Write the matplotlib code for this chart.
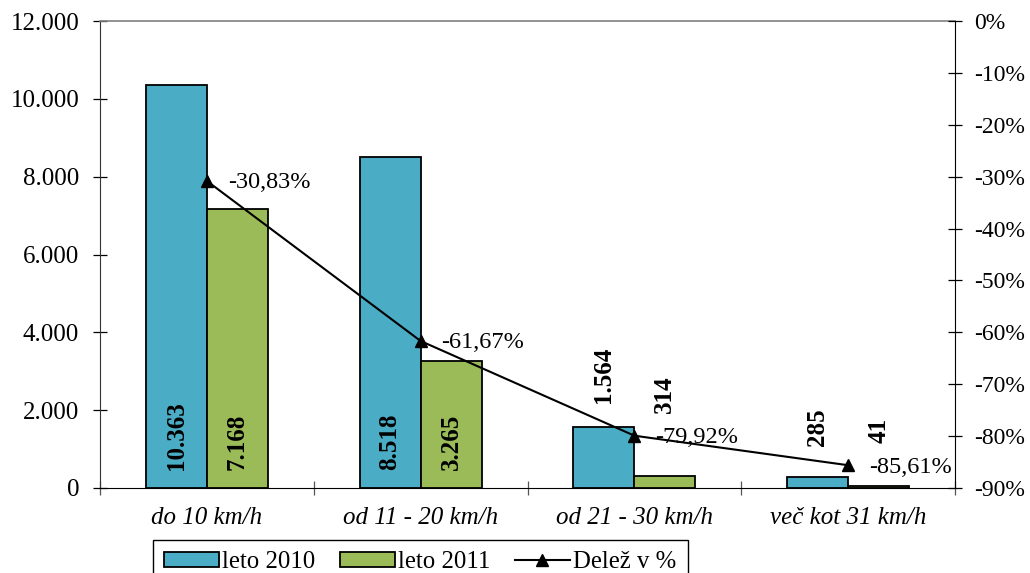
import matplotlib
matplotlib.use("Agg")
import matplotlib.pyplot as plt
from matplotlib.ticker import FuncFormatter, FixedLocator
import numpy as np

categories = ["do 10 km/h", "od 11 - 20 km/h", "od 21 - 30 km/h", "več kot 31 km/h"]
leto_2010 = [10363, 8518, 1564, 285]
leto_2011 = [7168, 3265, 314, 41]
delez = [-30.83, -61.67, -79.92, -85.61]
series_names = ["leto 2010", "leto 2011", "Delež v %"]

plt.rcParams['font.family'] = ['Liberation Serif', 'DejaVu Serif']

BLUE = "#4BACC6"
GREEN = "#9BBB59"

fig = plt.figure(figsize=(10.30, 5.73), dpi=100)
ax = fig.add_axes([100/1030, 1-488/573, 855/1030, 467/573])

x = np.arange(len(categories))
w = 0.2857
b1 = ax.bar(x - w/2, leto_2010, w, color=BLUE, edgecolor='black', linewidth=1.3, label=series_names[0], zorder=2)
b2 = ax.bar(x + w/2, leto_2011, w, color=GREEN, edgecolor='black', linewidth=1.3, label=series_names[1], zorder=2)

ax.set_xlim(-0.5, len(categories) - 0.5)
ax.set_ylim(0, 12000)
ax.set_yticks(np.arange(0, 12001, 2000))
ax.yaxis.set_major_formatter(FuncFormatter(lambda v, p: f"{int(v):,}".replace(",", ".")))
ax.xaxis.set_major_locator(FixedLocator(np.arange(-0.5, len(categories), 1.0)))
ax.xaxis.set_major_formatter(FuncFormatter(lambda v, p: ""))
ax.xaxis.set_minor_locator(FixedLocator(x))
ax.set_xticklabels(categories, minor=True, fontstyle='italic', fontsize=18)
ax.tick_params(axis='x', which='minor', length=0, pad=14)
ax.tick_params(axis='x', which='major', direction='inout', length=10, width=0.9, colors='#555555')
ax.tick_params(axis='y', direction='inout', length=10, width=0.9, pad=10, labelsize=18)
ax.spines['top'].set_color('#808080')
ax.spines['top'].set_linewidth(1.2)
ax.spines['right'].set_visible(False)
ax.spines['left'].set_color('#333333')
ax.spines['bottom'].set_color('black')

# value labels (rotated, bold)
inside_off = 18
above_offs = [[None, None], [None, None], [24, 63], [31, 43]]
for i in range(len(categories)):
    for j, (vals, xs) in enumerate(((leto_2010, x - w/2), (leto_2011, x + w/2))):
        v = vals[i]
        lab = f"{v:,}".replace(",", ".")
        off = above_offs[i][j]
        if off is None:
            ax.annotate(lab, xy=(xs[i], 0), xytext=(0, inside_off), textcoords='offset pixels',
                        rotation=90, ha='center', va='bottom', fontsize=18, fontweight='bold', zorder=4)
        else:
            ax.annotate(lab, xy=(xs[i], v), xytext=(0, off), textcoords='offset pixels',
                        rotation=90, ha='center', va='bottom', fontsize=18, fontweight='bold', zorder=4)

ax2 = ax.twinx()
ax2.set_ylim(-90, 0)
ax2.set_yticks(np.arange(-90, 1, 10))
ax2.yaxis.set_major_formatter(FuncFormatter(lambda v, p: f"{int(round(v))}%"))
ax2.tick_params(axis='y', direction='inout', length=10, width=0.9, pad=9, labelsize=17)
for s in ['top', 'left', 'bottom']:
    ax2.spines[s].set_visible(False)
ax2.spines['right'].set_color('black')
ln, = ax2.plot(x, delez, color='black', linewidth=1.5, marker='^', markersize=9,
               label=series_names[2], zorder=5)
for xi, d in zip(x, delez):
    ax2.annotate(f"{d:.2f}%".replace(".", ","), xy=(xi, d), xytext=(21, -2),
                 textcoords='offset pixels', ha='left', va='center', fontsize=17.5)

leg = fig.legend(handles=[b1, b2, ln], labels=series_names, ncol=3,
                 loc='upper left', bbox_to_anchor=(153/1030, 1-540/573),
                 bbox_transform=fig.transFigure, fontsize=17.8, frameon=True,
                 fancybox=False, edgecolor='black', framealpha=1, borderaxespad=0,
                 handlelength=2.2, handleheight=0.6, handletextpad=0.15,
                 columnspacing=1.0, borderpad=0.45)
leg.get_frame().set_linewidth(1.0)

fig.savefig("out.png", dpi=100)
